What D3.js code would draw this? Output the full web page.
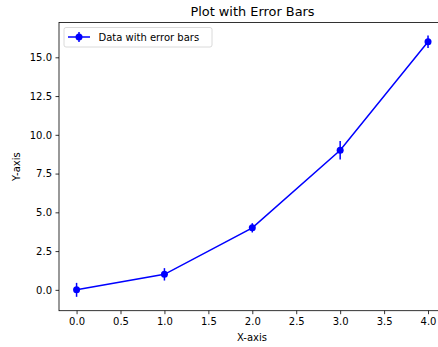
<!DOCTYPE html>
<html><head><meta charset="utf-8">
<script src="https://cdn.jsdelivr.net/npm/d3@7"></script>
<style>body{margin:0;background:#fff}svg{display:block;font-family:"DejaVu Sans",sans-serif}</style>
</head><body><svg id="c" width="438" height="347"></svg>
<script>
const xValues = [0, 1, 2, 3, 4];
const yValues = [0, 1, 4, 9, 16];
const yErrors = [0.45, 0.4, 0.3, 0.6, 0.4];
const xTicks = [0, 0.5, 1, 1.5, 2, 2.5, 3, 3.5, 4];
const yTicks = [0, 2.5, 5, 7.5, 10, 12.5, 15];
const title = "Plot with Error Bars";
const xLabel = "X-axis", yLabel = "Y-axis";
const legendLabel = "Data with error bars";

const svg = d3.select("#c");
const L = 59, R = 445.6, T = 22.5, B = 310.7;
const x = d3.scaleLinear().domain([-0.2, 4.2]).range([L, R]);
const y = d3.scaleLinear().domain([-1.345, 17.245]).range([B, T]);
const color = "#0000ff";

// axes
const xa = svg.append("g").attr("transform", `translate(0,${B})`)
  .call(d3.axisBottom(x).tickValues(xTicks).tickFormat(d3.format(".1f")).tickSizeOuter(0).tickSize(3.5).tickPadding(3.5));
const ya = svg.append("g").attr("transform", `translate(${L},0)`)
  .call(d3.axisLeft(y).tickValues(yTicks).tickFormat(d3.format(".1f")).tickSizeOuter(0).tickSize(3.5).tickPadding(3.5));
[xa, ya].forEach(g => {
  g.select(".domain").remove();
  g.selectAll("line").attr("stroke", "#000").attr("stroke-width", 0.8);
  g.selectAll("text").attr("font-size", 10).attr("fill", "#000").attr("font-family", "DejaVu Sans");
});
// spines
svg.append("rect").attr("x", L).attr("y", T).attr("width", R - L).attr("height", B - T)
  .attr("fill", "none").attr("stroke", "#000").attr("stroke-width", 0.8);

// line
const pts = xValues.map((d, i) => ({x: d, y: yValues[i], e: yErrors[i]}));
svg.append("path").datum(pts)
  .attr("d", d3.line().x(d => x(d.x)).y(d => y(d.y)))
  .attr("fill", "none").attr("stroke", color).attr("stroke-width", 1.5);
svg.selectAll(".eb").data(pts).enter().append("line")
  .attr("x1", d => x(d.x)).attr("x2", d => x(d.x))
  .attr("y1", d => y(d.y - d.e)).attr("y2", d => y(d.y + d.e))
  .attr("stroke", color).attr("stroke-width", 1.5);
svg.selectAll(".pt").data(pts).enter().append("circle")
  .attr("cx", d => x(d.x)).attr("cy", d => y(d.y)).attr("r", 3.5).attr("fill", color);

// title & labels
svg.append("text").attr("x", 252.5).attr("y", 16).attr("text-anchor", "middle")
  .attr("font-size", 12.9).text(title);
svg.append("text").attr("x", 252).attr("y", 341).attr("text-anchor", "middle")
  .attr("font-size", 10).text(xLabel);
svg.append("text").attr("transform", "translate(20,166.6) rotate(-90)").attr("text-anchor", "middle")
  .attr("font-size", 10).text(yLabel);

// legend
const lg = svg.append("g");
lg.append("rect").attr("x", 64).attr("y", 27.5).attr("width", 148).attr("height", 19.5).attr("rx", 2)
  .attr("fill", "#fff").attr("fill-opacity", 0.8).attr("stroke", "#d0d0d0").attr("stroke-width", 0.8);
lg.append("line").attr("x1", 68).attr("x2", 90).attr("y1", 37).attr("y2", 37).attr("stroke", color).attr("stroke-width", 1.5);
lg.append("line").attr("x1", 79).attr("x2", 79).attr("y1", 32).attr("y2", 42).attr("stroke", color).attr("stroke-width", 1.5);
lg.append("circle").attr("cx", 79).attr("cy", 37).attr("r", 3.5).attr("fill", color);
lg.append("text").attr("x", 98.5).attr("y", 40.5).attr("font-size", 10).text(legendLabel);
</script></body></html>
